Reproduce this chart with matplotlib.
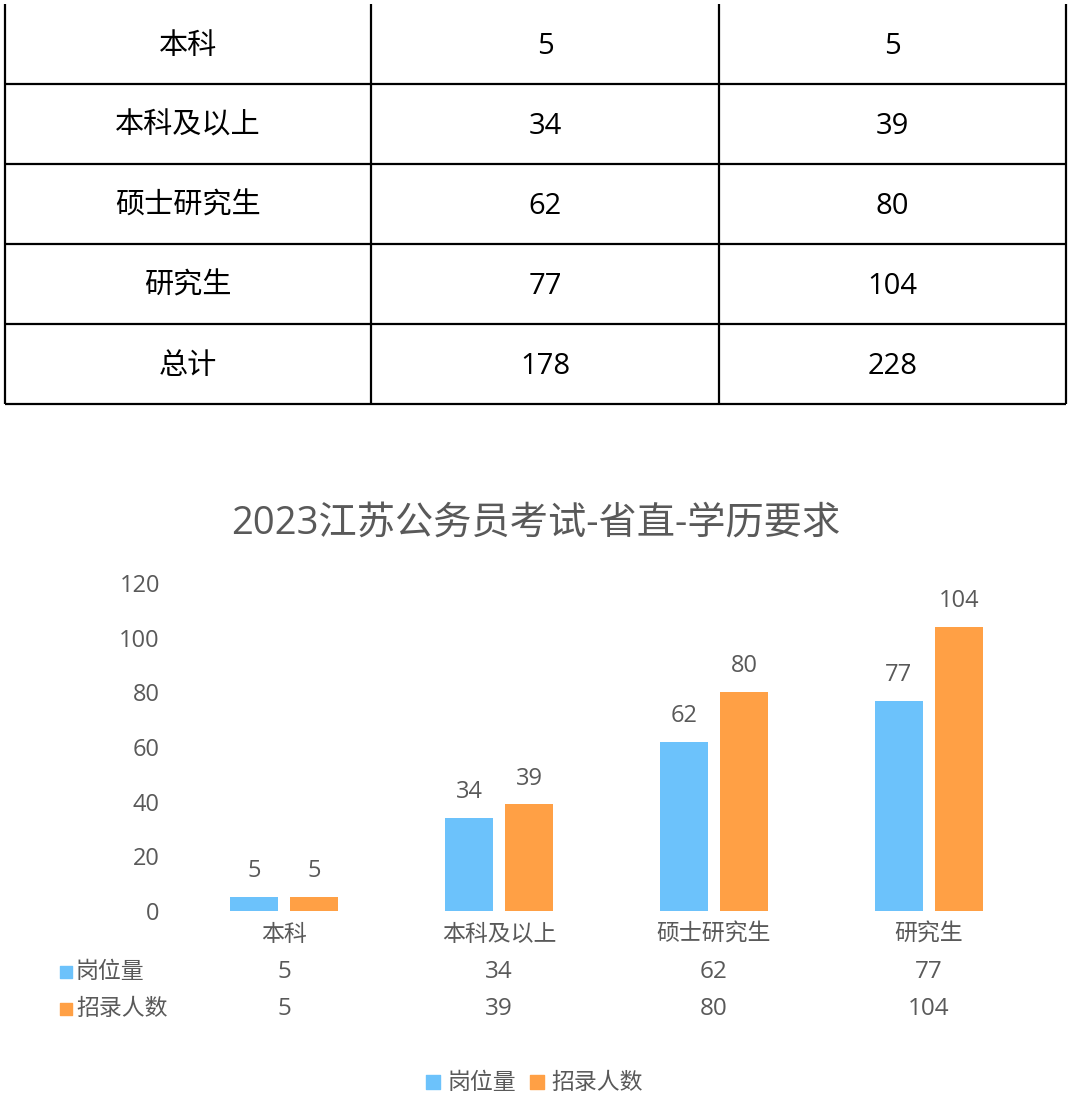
import matplotlib
matplotlib.use("Agg")
import matplotlib.pyplot as plt
import matplotlib.transforms as mtransforms

plt.rcParams['font.family'] = ['Open Sans', 'Noto Sans CJK SC', 'DejaVu Sans']

# data
categories = ['本科', '本科及以上', '硕士研究生', '研究生']
gangwei = [5, 34, 62, 77]
zhaolu = [5, 39, 80, 104]
series_names = ['岗位量', '招录人数']
table_rows = ['本科', '本科及以上', '硕士研究生', '研究生', '总计']
table_gangwei = [5, 34, 62, 77, 178]
table_zhaolu = [5, 39, 80, 104, 228]
yticks = [0, 20, 40, 60, 80, 100, 120]
title = '2023江苏公务员考试-省直-学历要求'

blue = '#6CC2FB'
orange = '#FFA045'
grey = '#595959'

W, H = 1070, 1118
fig = plt.figure(figsize=(W / 100, H / 100), dpi=100)
fig.patch.set_facecolor('white')

# overlay in pixel coords
pax = fig.add_axes([0, 0, 1, 1])
pax.set_xlim(0, W)
pax.set_ylim(H, 0)
pax.axis('off')

# top table
col_x = [5, 371, 719, 1066]
row_h = 80
top_y = 4
n = len(table_rows)
for x in col_x:
    pax.plot([x, x], [top_y, top_y + n * row_h], color='black', lw=1.6, solid_capstyle='butt')
for i in range(1, n + 1):
    y = top_y + i * row_h
    pax.plot([col_x[0], col_x[-1]], [y, y], color='black', lw=1.6, solid_capstyle='butt')
centers = [(col_x[j] + col_x[j + 1]) / 2 for j in range(3)]
for i, (r, a, b) in enumerate(zip(table_rows, table_gangwei, table_zhaolu)):
    yc = top_y + i * row_h + row_h / 2 + 2
    for xc, s in zip(centers, [r, str(a), str(b)]):
        pax.text(xc, yc, s, ha='center', va='center', fontsize=21, color='black')

# bar chart
y0, y120 = 911, 583
ax = fig.add_axes([176.5 / W, (H - y0) / H, 860 / W, (y0 - y120) / H])
ax.set_xlim(-0.5, 3.5)
ax.set_ylim(0, 120)
xs = list(range(len(categories)))
bw = 48 / 215
off = 30 / 215
b1 = ax.bar([x - off for x in xs], gangwei, bw, color=blue)
b2 = ax.bar([x + off for x in xs], zhaolu, bw, color=orange)
for bars, vals in [(b1, gangwei), (b2, zhaolu)]:
    for rect, v in zip(bars, vals):
        ax.annotate(str(v), (rect.get_x() + rect.get_width() / 2, v), xytext=(0, 10),
                    textcoords='offset points', ha='center', va='bottom', fontsize=17, color=grey)
for s in ax.spines.values():
    s.set_visible(False)
ax.set_yticks(yticks)
ax.set_yticklabels([str(t) for t in yticks], fontsize=17, color=grey)
ax.tick_params(axis='y', length=0, pad=12)
ax.set_xticks([])
ax.patch.set_alpha(0)

# category labels and data table under chart
tr = mtransforms.blended_transform_factory(ax.transData, pax.transData)
for x, c in zip(xs, categories):
    pax.text(x, 935, c, transform=tr, ha='center', va='center', fontsize=16.5, color=grey)
for row_y, name, col, vals in [(972, series_names[0], blue, gangwei), (1009, series_names[1], orange, zhaolu)]:
    pax.scatter([66], [row_y], marker='s', s=75, color=col)
    pax.text(76, row_y, name, ha='left', va='center', fontsize=16.5, color=grey)
    for x, v in zip(xs, vals):
        pax.text(x, row_y, str(v), transform=tr, ha='center', va='center', fontsize=17.5, color=grey)

# legend
pax.scatter([433], [1082], marker='s', s=90, color=blue)
pax.text(448, 1083, series_names[0], ha='left', va='center', fontsize=16.5, color=grey)
pax.scatter([537], [1082], marker='s', s=90, color=orange)
pax.text(551, 1083, series_names[1], ha='left', va='center', fontsize=16.5, color=grey)

pax.text(536, 524, title, ha='center', va='center', fontsize=27.5, color=grey)

fig.savefig('out.png', dpi=100, facecolor='white')
